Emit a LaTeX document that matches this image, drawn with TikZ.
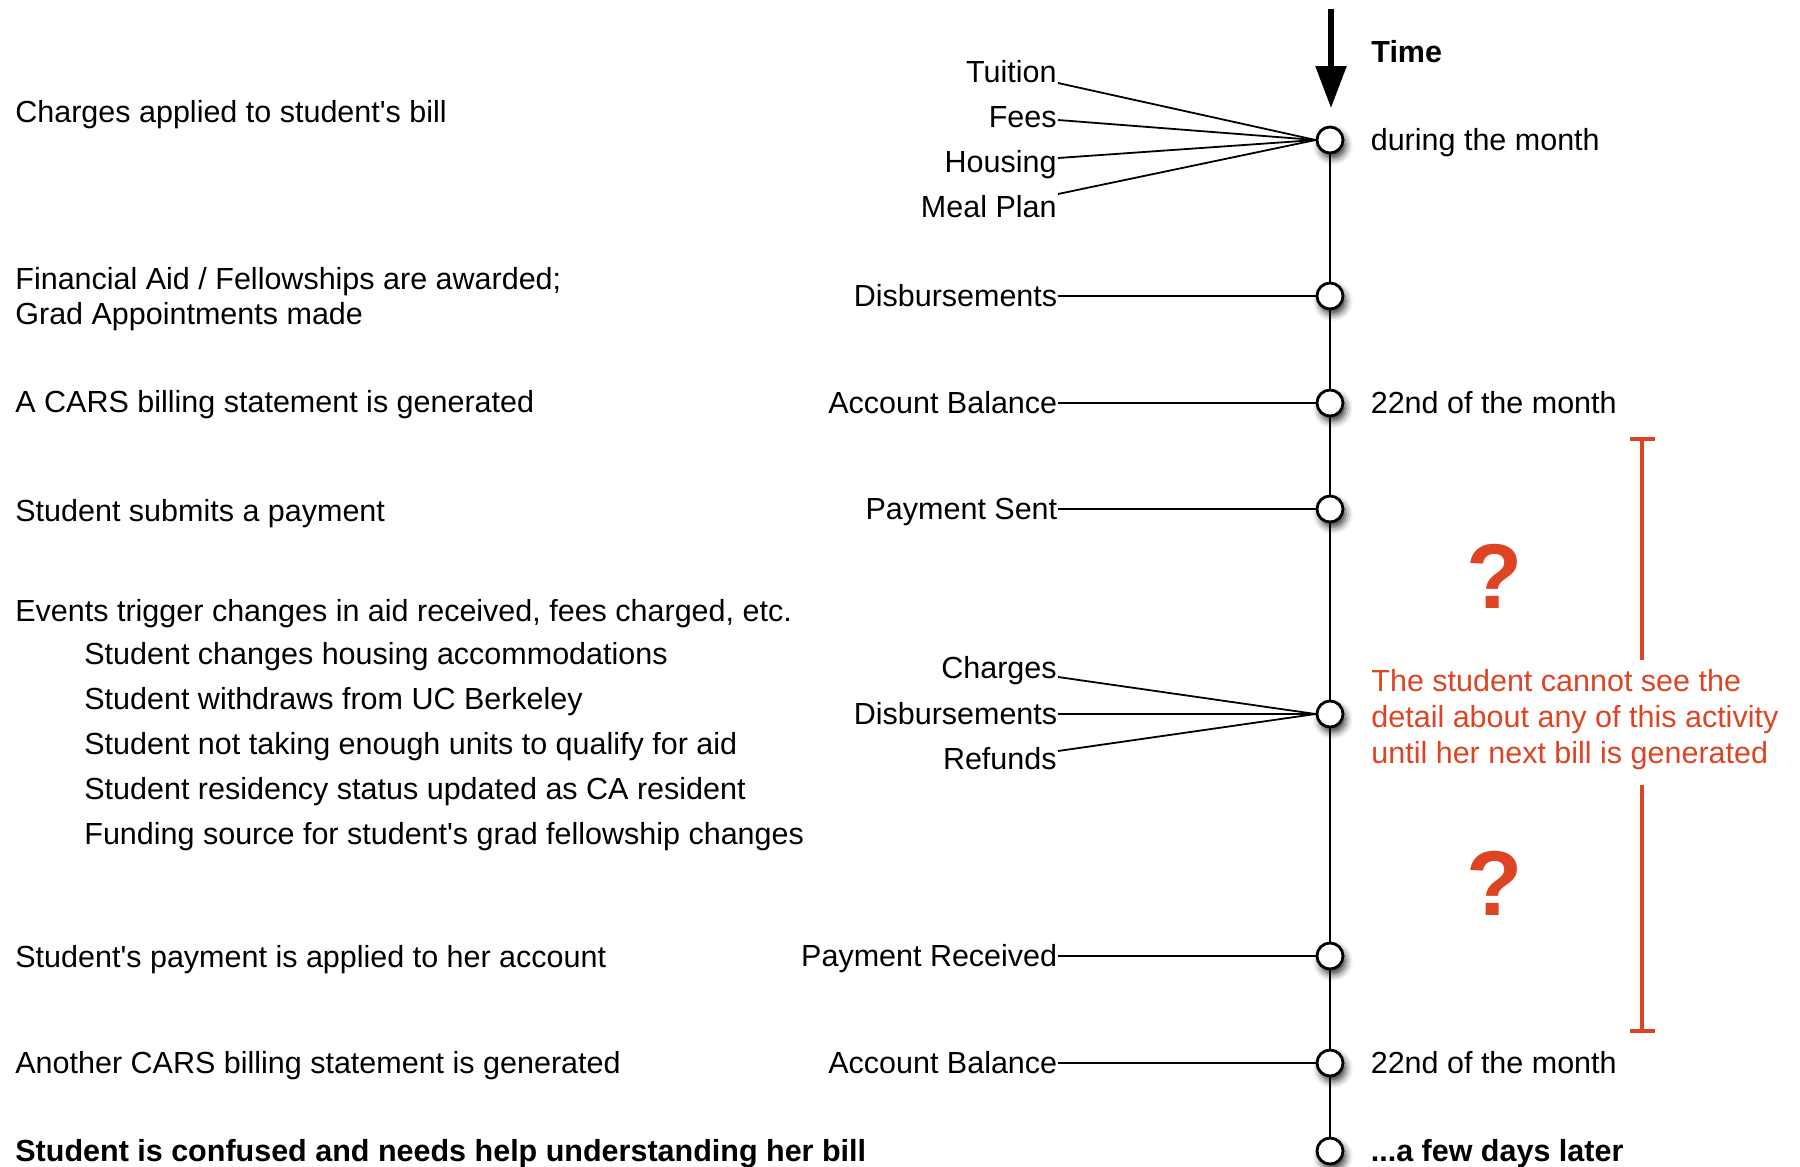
\documentclass[tikz,border=0pt]{standalone}
\usepackage{fontspec}
\setmainfont{Liberation Sans}
\usepackage{tikz}
\usetikzlibrary{arrows.meta, positioning, calc, shadows.blur}
\definecolor{tlRed}{RGB}{221,68,35}

\begin{document}
\begin{tikzpicture}[x=0.5pt,y=-0.5pt,
  font=\fontsize{15.25}{17.5}\selectfont,
  txt/.style={inner sep=0pt,text height=1em,text depth=0pt,anchor=west},
  lbl/.style={inner sep=0pt,text height=1em,text depth=0pt,anchor=east},
  when/.style={inner sep=0pt,text height=1em,text depth=0pt,anchor=west},
  strong/.style={font=\fontsize{15.25}{17.5}\selectfont\bfseries},
  evt/.style={circle,draw=black,line width=1.4pt,fill=white,
              minimum size=13pt,inner sep=0pt,
              blur shadow={shadow xshift=1.4pt,shadow yshift=-2.6pt,
                           shadow blur radius=3.5pt,shadow opacity=80}},
  spine/.style={line width=1pt},
  tie/.style={line width=0.9pt},
  timearrow/.style={line width=2.8pt,-{Triangle[length=21pt,width=15pt]}},
  qmark/.style={font=\fontsize{46}{50}\selectfont\bfseries,text=tlRed,
                inner sep=0pt,text height=33pt,text depth=0pt},
  notetxt/.style={text=tlRed,font=\fontsize{15.25}{18}\selectfont,align=left,
                  inner sep=0pt,anchor=north west},
  gapbar/.style={draw=tlRed,line width=2.2pt}]

\useasboundingbox (0,0) rectangle (1800,1167);

% ===== Time axis =====
\coordinate (t0) at (1331,9);
\coordinate (t1) at (1331,108);
\draw[timearrow] (t0) -- (t1);
\node[when,strong] (time) at (1371,52) {Time};

\foreach \name/\y in {c1/140,c2/296,c3/403,c4/509,c5/714,c6/956,c7/1063,c8/1151}
  \node[evt] (\name) at (1330,\y) {};
\foreach \a/\b in {c1/c2,c2/c3,c3/c4,c4/c5,c5/c6,c6/c7,c7/c8}
  \draw[spine] (\a) -- (\b);

% ===== When (right of axis) =====
\node[when,right=13pt of c1] (w1) {during the month};
\node[when,right=13pt of c3] (w3) {22nd of the month};
\node[when,right=13pt of c7] (w7) {22nd of the month};
\node[when,strong,right=13pt of c8] (w8) {...a few days later};

% ===== Items on the bill =====
\foreach \name/\lab/\y/\dy in {tu/Tuition/72/11,fe/Fees/117/3,ho/Housing/162/-4,mp/Meal Plan/207/-13}{
  \node[lbl] (\name) at (1057,\y) {\lab};
  \draw[tie] ($(\name.east)+(1,\dy)$) -- (c1.west);
}
\node[lbl,left=129pt of c2] (dis) {Disbursements};
\node[lbl,left=129pt of c3] (bal) {Account Balance};
\node[lbl,left=129pt of c4] (pay) {Payment Sent};
\node[lbl] (chg) at (1057,668) {Charges};
\node[lbl,left=129pt of c5] (dis2) {Disbursements};
\node[lbl] (ref) at (1057,759) {Refunds};
\node[lbl,left=129pt of c6] (rcv) {Payment Received};
\node[lbl,left=129pt of c7] (bal2) {Account Balance};
\draw[tie] (dis.east) -- (c2);
\draw[tie] (bal.east) -- (c3);
\draw[tie] (pay.east) -- (c4);
\draw[tie] ($(chg.east)+(1,9)$) -- (c5.west);
\draw[tie] (dis2.east) -- (c5);
\draw[tie] ($(ref.east)+(1,-8)$) -- (c5.west);
\draw[tie] (rcv.east) -- (c6);
\draw[tie] (bal2.east) -- (c7);

% ===== What happens (left column) =====
\node[txt] (e1) at (15,112) {Charges applied to student\textquotesingle s bill};
\node[inner sep=0pt,align=left,anchor=north west] (e2) at (15,267)
  {Financial Aid / Fellowships are awarded;\\Grad Appointments made};
\node[txt] (e3) at (15,402) {A CARS billing statement is generated};
\node[txt] (e4) at (15,511) {Student submits a payment};
\node[txt] (e5) at (15,611) {Events trigger changes in aid received, fees charged, etc.};
\foreach \i/\lab in {0/Student changes housing accommodations,
                     1/Student withdraws from UC Berkeley,
                     2/Student not taking enough units to qualify for aid,
                     3/Student residency status updated as CA resident,
                     4/Funding source for student\textquotesingle s grad fellowship changes}
  \node[txt] (s\i) at (84,654+45*\i) {\lab};
\node[txt] (e6) at (15,957) {Student\textquotesingle s payment is applied to her account};
\node[txt] (e7) at (15,1063) {Another CARS billing statement is generated};
\node[txt,strong] (e8) at (15,1151) {Student is confused and needs help understanding her bill};

% ===== Hidden activity =====
\node[qmark] (q1) at (1495,575) {?};
\node[qmark] (q2) at (1495,882) {?};
\node[notetxt] (nt) at (1371,669)
  {The student cannot see the\\detail about any of this activity\\until her next bill is generated};
\coordinate (gtop) at (1642,437);
\coordinate (gbot) at (1642,1033);
\draw[gapbar,{Bar[width=12.5pt]}-] (gtop) -- ($(gtop |- nt.north)+(0,-9)$);
\draw[gapbar,-{Bar[width=12.5pt]}] ($(gbot |- nt.south)+(0,15)$) -- (gbot);
\end{tikzpicture}
\end{document}
